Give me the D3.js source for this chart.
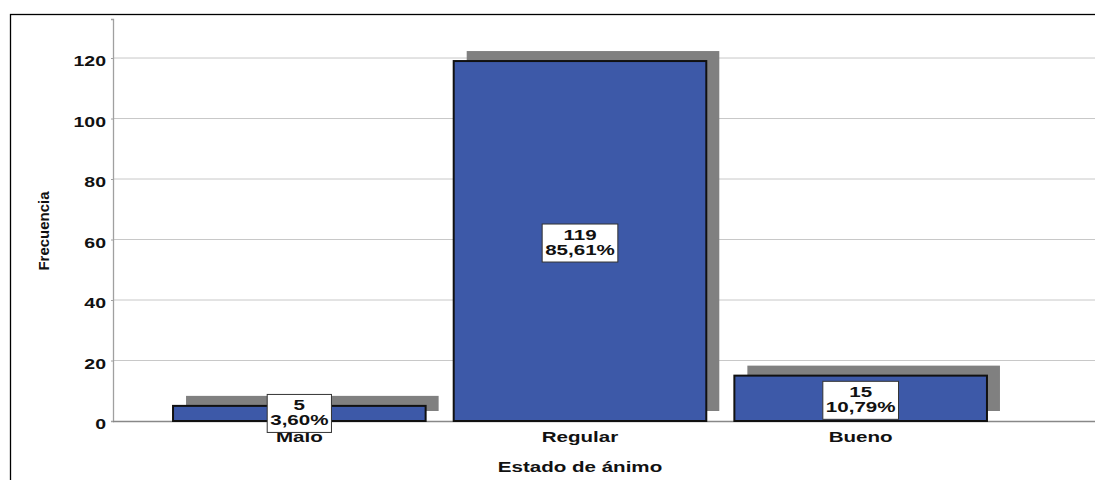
<!DOCTYPE html>
<html>
<head>
<meta charset="utf-8">
<script src="https://cdn.jsdelivr.net/npm/d3@7"></script>
<style>
  html, body { margin: 0; padding: 0; background: #fff; }
  svg { display: block; }
  text { font-family: "Liberation Sans", Arial, sans-serif; }
</style>
</head>
<body>
<svg id="chart" width="1095" height="480"></svg>
<script>
// Frequency of mood states
const categories = ["Malo", "Regular", "Bueno"];
const counts = [5, 119, 15];
const percents = ["3,60%", "85,61%", "10,79%"];
const yTicks = [0, 20, 40, 60, 80, 100, 120];

const svg = d3.select("#chart");
const W = 1095, H = 480;
const plotLeft = 113, plotRight = 1095, plotTop = 19, plotBottom = 421;
const WIDE = 1.37;   // horizontal widening of the chart lettering

// outer frame
svg.append("rect")
  .attr("x", 10.5).attr("y", 14.5)
  .attr("width", W + 20).attr("height", H + 20)
  .attr("fill", "none").attr("stroke", "#000").attr("stroke-width", 1.3);

const y = d3.scaleLinear().domain([0, 132.9]).range([plotBottom, plotTop]);
const x = d3.scaleBand().domain(categories)
  .range([159, 1001]).paddingInner(0.1).paddingOuter(0.05);

// widened bold text anchored at (px, py)
function wideText(parent, px, py, str, size, sx) {
  const g = parent.append("g")
    .attr("transform", `translate(${px},${py}) scale(${sx},1)`);
  return g.append("text")
    .attr("text-anchor", "middle")
    .attr("font-size", size).attr("font-weight", "bold").attr("fill", "#111")
    .text(str);
}

// gridlines
svg.append("g").selectAll("line").data(yTicks.filter(d => d > 0)).join("line")
  .attr("x1", plotLeft).attr("x2", plotRight)
  .attr("y1", d => y(d)).attr("y2", d => y(d))
  .attr("stroke", "#c8c8c8").attr("stroke-width", 1);

// y axis
const tickScale = 1.3;
const yAxis = d3.axisLeft(y).tickValues(yTicks).tickSize(2).tickPadding(5);
const gy = svg.append("g").attr("transform", `translate(${plotLeft},0)`).call(yAxis);
gy.select(".domain").attr("stroke", "#a0a0a0").attr("stroke-width", 1.3);
gy.selectAll(".tick line").attr("stroke", "#a0a0a0");
gy.selectAll(".tick text")
  .attr("font-family", "Liberation Sans, Arial, sans-serif")
  .attr("font-size", 15).attr("font-weight", "bold").attr("fill", "#111")
  .attr("x", -7 / tickScale)
  .attr("dy", "0.52em")
  .attr("transform", `scale(${tickScale},1)`);

// x axis baseline
svg.append("line")
  .attr("x1", plotLeft).attr("x2", plotRight)
  .attr("y1", plotBottom + 0.5).attr("y2", plotBottom + 0.5)
  .attr("stroke", "#888").attr("stroke-width", 1.3);

// drop shadows
const sdx = 13, sdy = -10;
svg.append("g").selectAll("rect").data(counts).join("rect")
  .attr("x", (d, i) => x(categories[i]) + sdx)
  .attr("y", d => y(d) + sdy)
  .attr("width", x.bandwidth())
  .attr("height", d => plotBottom - y(d))
  .attr("fill", "#808080");

// bars
svg.append("g").selectAll("rect").data(counts).join("rect")
  .attr("x", (d, i) => x(categories[i]))
  .attr("y", d => y(d))
  .attr("width", x.bandwidth())
  .attr("height", d => plotBottom - y(d))
  .attr("fill", "#3d59a8")
  .attr("stroke", "#111").attr("stroke-width", 2);

// category labels
const catG = svg.append("g");
categories.forEach(c => wideText(catG, x(c) + x.bandwidth() / 2, 442, c, 15, WIDE));

// axis titles
wideText(svg, 580, 472, "Estado de ánimo", 15, WIDE);

svg.append("text")
  .attr("transform", "translate(49,231) rotate(-90)")
  .attr("text-anchor", "middle")
  .attr("font-size", 15).attr("font-weight", "bold").attr("fill", "#111")
  .text("Frecuencia");

// value labels
const lg = svg.append("g");
counts.forEach((c, i) => {
  const cx = x(categories[i]) + x.bandwidth() / 2;
  const cy = (y(c) + plotBottom) / 2 + (c > 10 ? 2 : 0);
  const g = lg.append("g");
  const box = g.append("rect").attr("fill", "#fff").attr("stroke", "#333").attr("stroke-width", 1);
  const t1 = wideText(g, cx, cy - 3, String(c), 15, WIDE);
  const t2 = wideText(g, cx, cy + 12, percents[i], 15, WIDE);
  const w = Math.max(t1.node().getBBox().width, t2.node().getBBox().width) * WIDE;
  box.attr("x", cx - w / 2 - 3).attr("y", cy - 19)
     .attr("width", w + 6).attr("height", 38);
});
</script>
</body>
</html>
